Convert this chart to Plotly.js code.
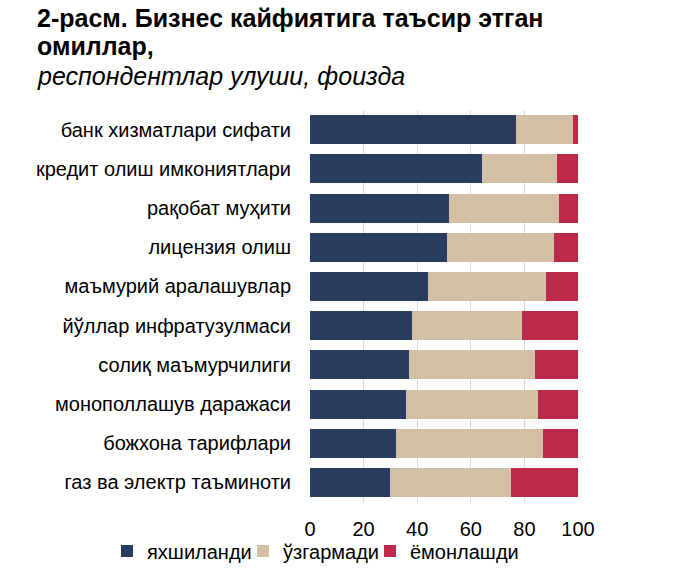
<!DOCTYPE html>
<html><head><meta charset="utf-8">
<script src="https://cdn.plot.ly/plotly-3.0.1.min.js"></script>
<style>body{margin:0;background:#fff}#c{width:680px;height:570px}</style>
</head><body><div id="c"></div>
<script>
const categories = ["банк хизматлари сифати","кредит олиш имкониятлари","рақобат муҳити","лицензия олиш","маъмурий аралашувлар","йўллар инфратузулмаси","солиқ маъмурчилиги","монополлашув даражаси","божхона тарифлари","газ ва электр таъминоти"];
const improved = [77,64,52,51,44,38,37,36,32,30];
const unchanged = [21,28,41,40,44,41,47,49,55,45];
const worsened = [2,8,7,9,12,21,16,15,13,25];
const seriesNames = ["яхшиланди","ўзгармади","ёмонлашди"];
const colors = ["#293d61","#d3bfa4","#bb2a49"];
const F = "Liberation Sans, Arial, sans-serif";
const vals = [improved, unchanged, worsened];
const legendIds = ['legend','legend2','legend3'];
const data = vals.map((v,i)=>({type:'bar',orientation:'h',x:v,y:categories,name:seriesNames[i],marker:{color:colors[i]},hoverinfo:'x',legend:legendIds[i]}));
// plot area: x 310..578, y 110..502
const PL=310, PW=268, PB=502, PH=392;
const px = x => (x-PL)/PW;
const py = y => (PB-y)/PH;
const legendX = [107, 243, 370];
const mkLegend = x => ({orientation:'h',x:px(x),xanchor:'left',y:py(551),yanchor:'middle',font:{size:20,family:F},bgcolor:'rgba(0,0,0,0)',itemwidth:30});
const layout = {
  width:680,height:570,barmode:'stack',bargap:0.26,
  margin:{l:310,r:102,t:110,b:68,autoexpand:false},
  paper_bgcolor:'#fff',plot_bgcolor:'#fff',
  font:{family:F,color:'#000'},
  xaxis:{range:[0,100],dtick:20,showgrid:true,gridcolor:'#d9d9d9',gridwidth:1,zeroline:false,showline:false,ticks:'',tickfont:{size:20,family:F},ticklabelstandoff:13,automargin:false,fixedrange:true},
  yaxis:{autorange:'reversed',ticks:'',tickfont:{size:20,family:F},ticklabelstandoff:18,showgrid:false,zeroline:false,automargin:false,fixedrange:true},
  showlegend:true,
  legend:mkLegend(legendX[0]),
  legend2:mkLegend(legendX[1]),
  legend3:mkLegend(legendX[2]),
  annotations:[
    {xref:'paper',yref:'paper',x:px(35),y:py(2),xanchor:'left',yanchor:'top',align:'left',showarrow:false,
     text:'<b>2-расм. Бизнес кайфиятига таъсир этган</b>',font:{size:25,family:F,color:'#000'}},
    {xref:'paper',yref:'paper',x:px(35),y:py(30),xanchor:'left',yanchor:'top',align:'left',showarrow:false,
     text:'<b>омиллар,</b>',font:{size:25,family:F,color:'#000'}},
    {xref:'paper',yref:'paper',x:px(35),y:py(60),xanchor:'left',yanchor:'top',align:'left',showarrow:false,
     text:'<i>респондентлар улуши, фоизда</i>',font:{size:25,family:F,color:'#000'}}
  ]
};
Plotly.newPlot('c',data,layout,{displayModeBar:false,staticPlot:true});
</script></body></html>
